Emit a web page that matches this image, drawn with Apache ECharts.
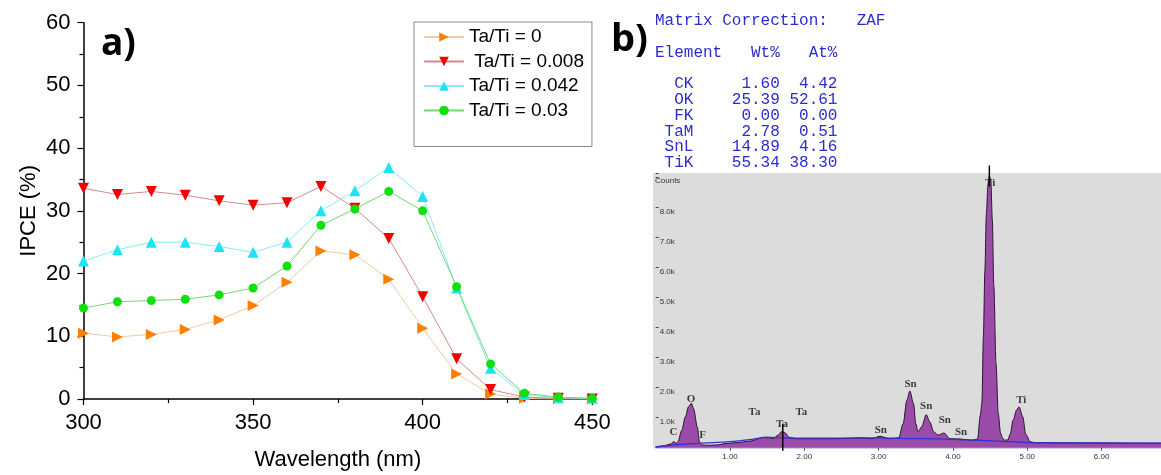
<!DOCTYPE html>
<html>
<head>
<meta charset="utf-8">
<script src="https://cdn.jsdelivr.net/npm/echarts@6/dist/echarts.min.js"></script>
<style>
  html, body { margin: 0; padding: 0; background: #ffffff; }
  #chart { width: 1161px; height: 475px; }
</style>
</head>
<body>
<div id="chart"></div>
<script>
// ---- a) IPCE spectra ----
const wavelengths = [300, 310, 320, 330, 340, 350, 360, 370, 380, 390, 400, 410, 420, 430, 440, 450];
const ipceTa0     = [10.5, 9.9, 10.3, 11.1, 12.6, 14.9, 18.6, 23.6, 23.0, 19.1, 11.3, 4.0, 0.8, 0.1, 0.0, 0.0];
const ipceTa008   = [33.6, 32.6, 33.1, 32.5, 31.6, 30.9, 31.3, 33.9, 30.4, 25.6, 16.3, 6.4, 1.5, 0.3, 0.1, 0.0];
const ipceTa042   = [22.0, 23.8, 25.0, 25.0, 24.3, 23.4, 25.0, 30.0, 33.2, 36.9, 32.3, 17.7, 4.9, 0.7, 0.2, 0.1];
const ipceTa03    = [14.5, 15.5, 15.7, 15.9, 16.6, 17.7, 21.2, 27.7, 30.3, 33.1, 30.0, 17.9, 5.6, 0.9, 0.3, 0.1];
const seriesNames = ['Ta/Ti = 0', ' Ta/Ti = 0.008', 'Ta/Ti = 0.042', 'Ta/Ti = 0.03'];

// ---- b) EDS quantification table ----
const eltNames = ['CK', 'OK', 'FK', 'TaM', 'SnL', 'TiK'];
const wtPct    = [1.60, 25.39, 0.00, 2.78, 14.89, 55.34];
const atPct    = [4.42, 52.61, 0.00, 0.51, 4.16, 38.30];

// ---- b) EDS spectrum (keV, counts) ----
const edsEnergy = [0.00, 0.10, 0.20, 0.24, 0.28, 0.30, 0.35, 0.40, 0.44, 0.48, 0.51, 0.56, 0.59, 0.62, 0.70,
                   0.82, 0.95, 1.09, 1.27, 1.45, 1.58, 1.65, 1.70, 1.75, 1.79, 1.90, 2.08, 2.40, 2.60, 2.75,
                   2.90, 3.02, 3.15, 3.27, 3.33, 3.38, 3.42, 3.47, 3.50, 3.53, 3.58, 3.64, 3.69, 3.74, 3.80,
                   3.88, 3.96, 4.10, 4.25, 4.33, 4.37, 4.39, 4.41, 4.43, 4.45, 4.47, 4.49, 4.51, 4.53, 4.55,
                   4.58, 4.61, 4.64, 4.66, 4.69, 4.74, 4.77, 4.81, 4.86, 4.89, 4.94, 4.98, 5.04, 5.10, 5.50,
                   6.00, 6.50, 6.80];
const edsCounts = [30, 60, 120, 200, 150, 200, 580, 1030, 1360, 1480, 1300, 690, 190, 90, 80,
                   90, 140, 170, 220, 340, 310, 420, 550, 480, 350, 300, 300, 300, 310, 330,
                   300, 380, 300, 330, 800, 1580, 1890, 1470, 800, 530, 700, 1100, 860, 530, 420,
                   490, 300, 290, 250, 280, 1100, 1500, 3700, 5900, 7800, 8700, 9050, 8900, 7600, 5400,
                   2800, 1140, 500, 360, 250, 260, 450, 920, 1270, 1360, 1030, 450, 200, 170, 160,
                   160, 150, 150];
const bgEnergy = [0.00, 0.30, 0.60, 1.00, 1.30, 1.50, 1.70, 2.00, 2.50, 3.00, 3.30, 3.60, 4.00, 4.30, 4.60, 5.00, 5.50, 6.80];
const bgCounts = [20, 100, 150, 200, 280, 350, 330, 320, 320, 330, 310, 300, 280, 250, 220, 170, 160, 150];
const peakNames  = ['C', 'O', 'F', 'Ta', 'Ta', 'Ta', 'Sn', 'Sn', 'Sn', 'Sn', 'Sn', 'Ti', 'Ti'];
const peakEnergy = [0.24, 0.475, 0.63, 1.33, 1.70, 1.96, 3.03, 3.43, 3.64, 3.89, 4.11, 4.50, 4.92];
const peakCounts = [520, 1630, 430, 1180, 770, 1180, 580, 2130, 1400, 920, 510, 8820, 1580];
const cursorTa = [1.71, -100, 800];
const cursorTi = [4.49, 8700, 9400];

const sansFont = '"Liberation Sans", Arial, sans-serif';
const monoFont = '"Liberation Mono", "DejaVu Sans Mono", monospace';
const tableBlue = '#2b2bcf';

function pairs(xs, ys) { return xs.map((x, i) => [x, ys[i]]); }

const tableLines = [
  'Matrix Correction:   ZAF',
  'Element' + 'Wt%'.padStart(6) + 'At%'.padStart(6)
].concat(eltNames.map((n, i) => n.padStart(4) + wtPct[i].toFixed(2).padStart(9) + atPct[i].toFixed(2).padStart(6)));
const tableY = [20.5, 52.5, 83.5, 99.5, 115.5, 131.5, 147, 163];

const graphics = [
  { type: 'rect', shape: { x: 653, y: 173, width: 508, height: 275 }, style: { fill: '#dcdcdc' }, z: 0, silent: true },
  { type: 'text', x: 101, y: 44, style: { text: 'a)', font: 'bold 37px "Open Sans", sans-serif', fill: '#000', textVerticalAlign: 'middle', verticalAlign: 'middle' }, z: 5 },
  { type: 'text', x: 611, y: 40, style: { text: 'b)', font: 'bold 38px "Open Sans", sans-serif', fill: '#000', textVerticalAlign: 'middle', verticalAlign: 'middle' }, z: 5 },
  { type: 'text', x: 655, y: 181, style: { text: 'Counts', font: '8px ' + sansFont, fill: '#333', textVerticalAlign: 'middle', verticalAlign: 'middle' }, z: 5 }
].concat(tableLines.map((t, i) => ({
  type: 'text', x: 655, y: tableY[i],
  style: { text: t, font: '16px ' + monoFont, fill: tableBlue, textVerticalAlign: 'middle', verticalAlign: 'middle' },
  z: 5
})));

function ipceSeries(name, values, symbol, rotate, size, markerColor, lineColor) {
  return {
    name: name, type: 'line', xAxisIndex: 0, yAxisIndex: 0,
    data: pairs(wavelengths, values),
    symbol: symbol, symbolRotate: rotate, symbolSize: size, showSymbol: true,
    itemStyle: { color: markerColor },
    lineStyle: { color: lineColor, width: 1 },
    emphasis: { disabled: true },
    z: 3
  };
}

const option = {
  animation: false,
  backgroundColor: '#ffffff',
  graphic: graphics,
  legend: {
    data: seriesNames,
    orient: 'vertical', left: 414, top: 22,
    padding: [5, 8, 26, 9],
    itemWidth: 40, itemHeight: 12, itemGap: 4.5,
    borderColor: '#8a8a8a', borderWidth: 1,
    textStyle: { fontFamily: sansFont, fontSize: 19, color: '#000', lineHeight: 20 },
    selectedMode: false
  },
  grid: [
    { left: 83.5, top: 22.7, width: 508.8, height: 376.3, outerBoundsMode: 'none', containLabel: false },
    { left: 655.7, top: 173, width: 505.3, height: 274.7, outerBoundsMode: 'none', containLabel: false }
  ],
  xAxis: [
    {
      gridIndex: 0, type: 'value', min: 300, max: 450, interval: 50,
      name: 'Wavelength (nm)', nameLocation: 'middle', nameGap: 50,
      nameTextStyle: { fontFamily: sansFont, fontSize: 22, color: '#000' },
      axisLine: { onZero: false, lineStyle: { color: '#000', width: 1.5 } },
      axisTick: { show: true, inside: false, length: 6, lineStyle: { color: '#000', width: 1.2 } },
      minorTick: { show: true, splitNumber: 2, length: 4, lineStyle: { color: '#000', width: 1.2 } },
      axisLabel: { fontFamily: sansFont, fontSize: 22, color: '#000', margin: 13 },
      splitLine: { show: false }
    },
    {
      gridIndex: 1, type: 'value', min: 0, max: 6.8, interval: 1,
      axisLine: { onZero: false, lineStyle: { color: '#cbb6dc', width: 1.5 } },
      axisTick: { show: true, inside: false, length: 3, lineStyle: { color: '#555', width: 1 } },
      axisLabel: { fontFamily: sansFont, fontSize: 8, color: '#333', margin: 5,
        showMaxLabel: false, showMinLabel: false,
        formatter: v => (v === 0 ? '' : v.toFixed(2)) },
      splitLine: { show: false }
    }
  ],
  yAxis: [
    {
      gridIndex: 0, type: 'value', min: 0, max: 60, interval: 10,
      name: 'IPCE (%)', nameLocation: 'middle', nameGap: 44,
      nameTextStyle: { fontFamily: sansFont, fontSize: 22, color: '#000' },
      axisLine: { show: true, onZero: false, lineStyle: { color: '#000', width: 1.5 } },
      axisTick: { show: true, inside: false, length: 6, lineStyle: { color: '#000', width: 1.2 } },
      minorTick: { show: true, splitNumber: 2, length: 4, lineStyle: { color: '#000', width: 1.2 } },
      axisLabel: { fontFamily: sansFont, fontSize: 22, color: '#000', margin: 13 },
      splitLine: { show: false }
    },
    {
      gridIndex: 1, type: 'value', min: 0, max: 9150, interval: 1000,
      axisLine: { show: false },
      axisTick: { show: true, inside: true, length: 3, lineStyle: { color: '#444', width: 1 } },
      axisLabel: { inside: true, fontFamily: sansFont, fontSize: 8, color: '#333', margin: 4,
        verticalAlign: 'top',
        formatter: v => (v > 0 && v < 9000 ? (v / 1000).toFixed(1) + 'k' : '') },
      splitLine: { show: false }
    }
  ],
  series: [
    ipceSeries(seriesNames[0], ipceTa0,   'triangle', -90, 11, '#ff8000', '#f6c9a2'),
    ipceSeries(seriesNames[1], ipceTa008, 'triangle', 180, 11, '#f00000', '#d48a8a'),
    ipceSeries(seriesNames[2], ipceTa042, 'triangle', 0,   11, '#1de4f5', '#86edf5'),
    ipceSeries(seriesNames[3], ipceTa03,  'circle',   0,   9,  '#10e010', '#74d874'),
    {
      name: 'spectrum', type: 'line', xAxisIndex: 1, yAxisIndex: 1,
      data: pairs(edsEnergy, edsCounts),
      symbol: 'none', smooth: 0.3, smoothMonotone: 'x',
      lineStyle: { color: '#2a1530', width: 1 },
      areaStyle: { color: '#9a4ca8', opacity: 1 },
      emphasis: { disabled: true },
      z: 2
    },
    {
      name: 'background', type: 'line', xAxisIndex: 1, yAxisIndex: 1,
      data: pairs(bgEnergy, bgCounts),
      symbol: 'none', smooth: 0.3,
      lineStyle: { color: '#3030d8', width: 1.2 },
      emphasis: { disabled: true },
      z: 3
    },
    {
      name: 'cursorTa', type: 'line', xAxisIndex: 1, yAxisIndex: 1, clip: false,
      data: [[cursorTa[0], cursorTa[1]], [cursorTa[0], cursorTa[2]]],
      symbol: 'none', lineStyle: { color: '#000', width: 1.5 }, z: 4
    },
    {
      name: 'cursorTi', type: 'line', xAxisIndex: 1, yAxisIndex: 1, clip: false,
      data: [[cursorTi[0], cursorTi[1]], [cursorTi[0], cursorTi[2]]],
      symbol: 'none', lineStyle: { color: '#000', width: 1.5 }, z: 4
    },
    {
      name: 'peaks', type: 'scatter', xAxisIndex: 1, yAxisIndex: 1,
      data: peakNames.map((n, i) => ({ name: n, value: [peakEnergy[i], peakCounts[i]] })),
      symbolSize: 0, silent: true,
      label: { show: true, position: 'inside', formatter: '{b}',
        fontFamily: '"Liberation Serif", "Times New Roman", serif', fontWeight: 'bold', fontSize: 11, color: '#111' },
      z: 5
    }
  ]
};

const chart = echarts.init(document.getElementById('chart'), null, { renderer: 'canvas' });
chart.setOption(option);
</script>
</body>
</html>
